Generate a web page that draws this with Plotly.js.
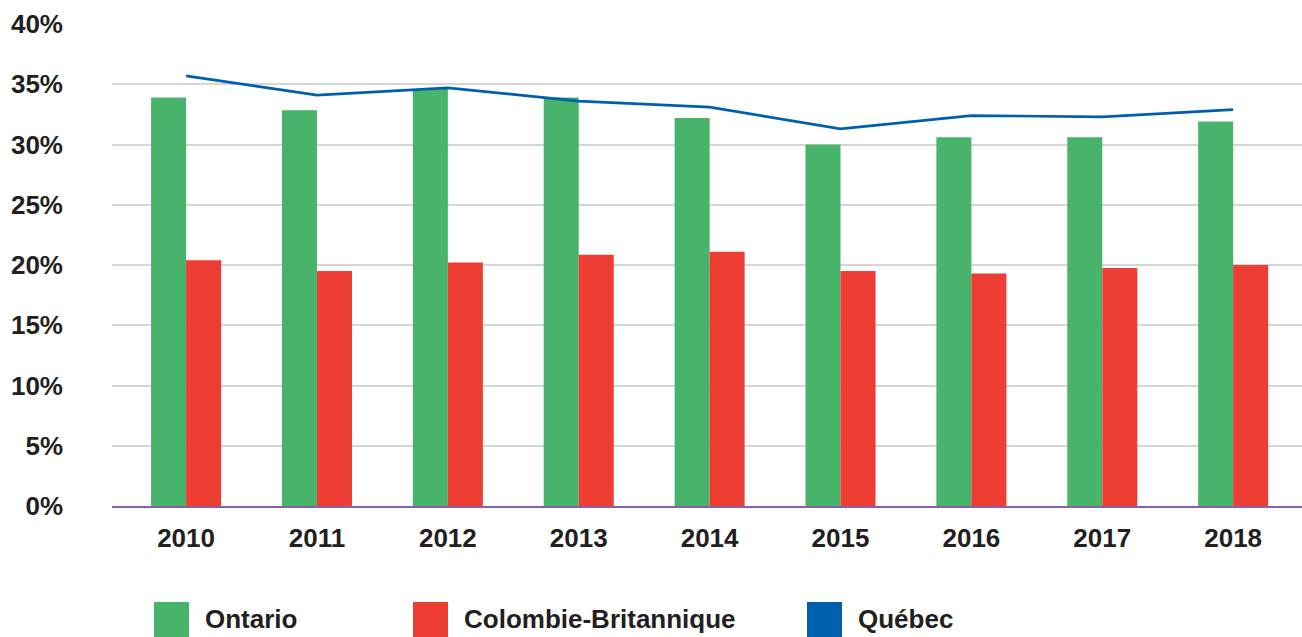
<!DOCTYPE html>
<html>
<head>
<meta charset="utf-8">
<script src="https://cdn.plot.ly/plotly-3.0.1.min.js"></script>
<style>
  html, body { margin: 0; padding: 0; background: #fff; }
  #graph { width: 1302px; height: 637px; }
</style>
</head>
<body>
<div id="graph"></div>
<script>
var years = ['2010', '2011', '2012', '2013', '2014', '2015', '2016', '2017', '2018'];
var ontario = [33.9, 32.85, 34.6, 33.9, 32.2, 30.0, 30.6, 30.6, 31.9];
var colombie = [20.4, 19.5, 20.2, 20.85, 21.1, 19.5, 19.3, 19.75, 20.0];
var quebec = [35.7, 34.1, 34.7, 33.6, 33.1, 31.3, 32.4, 32.3, 32.9];
var names = ['Ontario', 'Colombie-Britannique', 'Québec'];
var colors = ['#48b36a', '#ee3d33', '#005fad'];
var yTicks = [0, 5, 10, 15, 20, 25, 30, 35, 40];

var font = '"Liberation Sans", Arial, sans-serif';
var ink = '#231f20';

var data = [
  {x: years, y: ontario, name: names[0], type: 'bar',
   marker: {color: colors[0]}},
  {x: years, y: colombie, name: names[1], type: 'bar',
   marker: {color: colors[1]}},
  {x: years, y: quebec, name: names[2], type: 'scatter', mode: 'lines',
   line: {color: colors[2], width: 2.7}}
];

// legend drawn under the plot: coloured square + bold label
var legendX = [154, 413, 807];
var shapes = [];
var annotations = [];
for (var i = 0; i < names.length; i++) {
  shapes.push({type: 'rect', xref: 'paper', yref: 'paper',
    x0: (legendX[i] - 112) / 1190, x1: (legendX[i] + 35 - 112) / 1190,
    y0: -131 / 482, y1: -96 / 482,
    fillcolor: colors[i], line: {width: 0}});
  annotations.push({text: '<b>' + names[i] + '</b>', showarrow: false,
    xref: 'paper', yref: 'paper', xanchor: 'left', yanchor: 'middle',
    x: (legendX[i] + 49 - 112) / 1190, y: -113 / 482,
    font: {family: font, size: 26, color: ink}});
}

var layout = {
  width: 1302, height: 637,
  margin: {l: 112, r: 0, t: 24, b: 131},
  paper_bgcolor: '#fff', plot_bgcolor: '#fff',
  showlegend: false,
  barmode: 'group',
  bargap: 0.465,
  bargroupgap: 0,
  font: {family: font, color: ink},
  xaxis: {type: 'category', range: [-0.566, 8.526], showgrid: false,
    showline: true, linecolor: '#8e5ea2', linewidth: 2,
    ticks: '', ticklabelstandoff: 8,
    tickfont: {family: font, size: 26, color: ink, weight: 'bold'}},
  yaxis: {range: [0, 40], tickvals: yTicks,
    ticktext: yTicks.map(function (v) { return v + '%'; }),
    showgrid: true, gridcolor: '#d6d6d6', gridwidth: 1.5,
    zeroline: false, showline: false, ticks: '', ticklabelstandoff: 48,
    tickfont: {family: font, size: 26, color: ink, weight: 'bold'}},
  shapes: shapes,
  annotations: annotations
};

Plotly.newPlot('graph', data, layout, {displayModeBar: false});
</script>
</body>
</html>
